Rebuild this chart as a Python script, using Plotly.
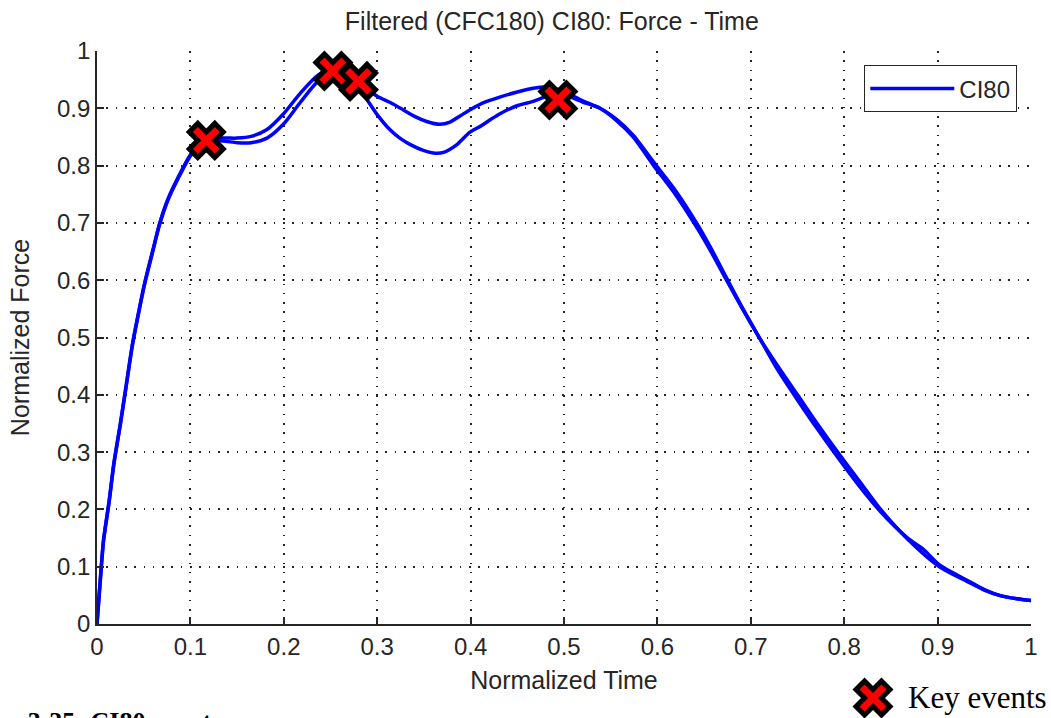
import plotly.graph_objects as go

# ---------------- data ----------------
tick_vals = [0, 0.1, 0.2, 0.3, 0.4, 0.5, 0.6, 0.7, 0.8, 0.9, 1.0]
tick_text = ["0", "0.1", "0.2", "0.3", "0.4", "0.5", "0.6", "0.7", "0.8", "0.9", "1"]

time_a = [0, 0.004, 0.007, 0.013, 0.018, 0.025, 0.031, 0.038, 0.045, 0.051, 0.060, 0.067,
          0.076, 0.087, 0.100, 0.110, 0.120, 0.135, 0.150, 0.165, 0.182, 0.200, 0.218, 0.236,
          0.250, 0.258, 0.266, 0.275, 0.285, 0.300, 0.314, 0.325, 0.340, 0.353, 0.367, 0.378,
          0.390, 0.400, 0.414, 0.432, 0.449, 0.467, 0.482, 0.500, 0.520, 0.5385, 0.556, 0.574,
          0.596, 0.620, 0.643, 0.658, 0.673, 0.690, 0.709, 0.729, 0.750, 0.771, 0.793, 0.816,
          0.839, 0.868, 0.902, 0.932, 0.950, 0.968, 0.985, 1.000]
force_a = [0, 0.088, 0.147, 0.215, 0.280, 0.350, 0.414, 0.489, 0.548, 0.595, 0.654, 0.699,
           0.742, 0.780, 0.819, 0.836, 0.845, 0.848, 0.848, 0.851, 0.863, 0.891, 0.927, 0.957,
           0.970, 0.972, 0.965, 0.953, 0.940, 0.921, 0.910, 0.900, 0.886, 0.877, 0.872, 0.876,
           0.888, 0.898, 0.910, 0.920, 0.928, 0.935, 0.937, 0.929, 0.913, 0.900, 0.879, 0.850,
           0.800, 0.748, 0.690, 0.648, 0.603, 0.553, 0.500, 0.450, 0.400, 0.350, 0.300, 0.250,
           0.200, 0.148, 0.100, 0.074, 0.059, 0.049, 0.044, 0.041]

time_b = [0, 0.004, 0.007, 0.013, 0.018, 0.025, 0.031, 0.038, 0.045, 0.051, 0.060, 0.067,
          0.076, 0.087, 0.100, 0.110, 0.120, 0.135, 0.150, 0.165, 0.182, 0.200, 0.218, 0.236,
          0.250, 0.258, 0.266, 0.275, 0.285, 0.300, 0.314, 0.325, 0.335, 0.350, 0.360, 0.371,
          0.385, 0.399, 0.411, 0.421, 0.432, 0.449, 0.467, 0.482, 0.500, 0.520, 0.5385, 0.556,
          0.574, 0.596, 0.620, 0.643, 0.658, 0.673, 0.690, 0.709, 0.729, 0.750, 0.771, 0.793,
          0.816, 0.839, 0.868, 0.885, 0.902, 0.932, 0.950, 0.968, 0.985, 1.000]
force_b = [0, 0.086, 0.145, 0.213, 0.278, 0.348, 0.412, 0.487, 0.546, 0.593, 0.652, 0.697,
           0.740, 0.778, 0.817, 0.834, 0.842, 0.843, 0.840, 0.840, 0.848, 0.873, 0.911, 0.946,
           0.960, 0.963, 0.958, 0.945, 0.925, 0.889, 0.862, 0.847, 0.837, 0.826, 0.822, 0.823,
           0.836, 0.858, 0.869, 0.880, 0.891, 0.904, 0.912, 0.921, 0.923, 0.911, 0.900, 0.881,
           0.853, 0.806, 0.755, 0.697, 0.654, 0.607, 0.555, 0.500, 0.443, 0.391, 0.341, 0.291,
           0.241, 0.196, 0.150, 0.130, 0.103, 0.076, 0.060, 0.049, 0.044, 0.041]

event_time = [0.117, 0.2526, 0.280, 0.4935]
event_force = [0.844, 0.965, 0.947, 0.9145]

series_name = "CI80"
title_text = "Filtered (CFC180) CI80: Force - Time"
x_title = "Normalized Time"
y_title = "Normalized Force"
caption_text = "Figure 3-35: CI80 events"
key_text = "Key events"

# ---------------- layout geometry (pixels) ----------------
W, H = 1051, 718
PL, PR, PT, PB = 97, 1031, 51, 624   # plot-area edges
KEY_X, KEY_Y = 873, 698              # key-events symbol centre (page pixels)

BLUE = "#0000FF"
AX = "#262626"
FONT = "Liberation Sans, Arial, Helvetica, sans-serif"
SERIF = "Liberation Serif, Times New Roman, serif"

fig = go.Figure()
fig.add_trace(go.Scatter(x=time_a, y=force_a, mode="lines", name=series_name,
                         line=dict(color=BLUE, width=3.5, shape="spline", smoothing=0.7),
                         showlegend=True))
fig.add_trace(go.Scatter(x=time_b, y=force_b, mode="lines", name=series_name,
                         line=dict(color=BLUE, width=3.5, shape="spline", smoothing=0.7),
                         showlegend=False))

marker_style = dict(symbol="x", size=30, color="#FF0000", line=dict(color="#000000", width=5))
fig.add_trace(go.Scatter(x=event_time, y=event_force, mode="markers",
                         marker=marker_style, showlegend=False, cliponaxis=False))
# key symbol drawn on a full-page helper axis pair (pixel coordinates)
fig.add_trace(go.Scatter(x=[KEY_X], y=[KEY_Y], mode="markers", xaxis="x2", yaxis="y2",
                         marker=marker_style, showlegend=False, cliponaxis=False,
                         hoverinfo="skip"))

axis_common = dict(
    range=[0, 1], autorange=False, tickmode="array", tickvals=tick_vals, ticktext=tick_text,
    showgrid=True, gridcolor=AX, gridwidth=1.6, griddash="1.6px,7.7px",
    zeroline=False, showline=True, linecolor=AX, linewidth=1.6, mirror=False,
    ticks="inside", ticklen=7, tickwidth=1.6, tickcolor=AX,
    tickfont=dict(family=FONT, size=24, color=AX), automargin=False,
)

fig.update_layout(
    width=W, height=H,
    margin=dict(l=0, r=0, t=0, b=0),
    paper_bgcolor="white", plot_bgcolor="rgba(0,0,0,0)",
    title=dict(text=title_text, x=0.487 * (PR - PL) / W + PL / W, xref="paper",
               xanchor="center", y=1 - 21 / H, yref="container", yanchor="middle",
               font=dict(family=FONT, size=25, color=AX)),
    xaxis=dict(**axis_common, domain=[PL / W, PR / W], anchor="y",
               title=dict(text=x_title, standoff=13, font=dict(family=FONT, size=25, color=AX))),
    yaxis=dict(**axis_common, domain=[1 - PB / H, 1 - PT / H], anchor="x",
               title=dict(text=y_title, standoff=20, font=dict(family=FONT, size=25, color=AX))),
    xaxis2=dict(domain=[0, 1], range=[0, W], visible=False, anchor="y2", fixedrange=True),
    yaxis2=dict(domain=[0, 1], range=[H, 0], visible=False, anchor="x2", fixedrange=True),
    legend=dict(x=1017 / W, xanchor="right", y=1 - 65 / H, yanchor="top",
                bgcolor="white", bordercolor=AX, borderwidth=1.3,
                font=dict(family=FONT, size=24, color=AX), itemwidth=84),
    showlegend=True,
)

fig.add_annotation(text=key_text, xref="x2", yref="y2", x=906, y=697,
                   xanchor="left", yanchor="middle", showarrow=False,
                   font=dict(family=SERIF, size=31, color="#000000"))
fig.add_annotation(text="<b>" + caption_text + "</b>", xref="paper", yref="paper",
                   x=-54 / W, y=1 - 722 / H, xanchor="left", yanchor="middle",
                   showarrow=False, font=dict(family=SERIF, size=26, color="#000000"))

fig.write_html("out.html")
